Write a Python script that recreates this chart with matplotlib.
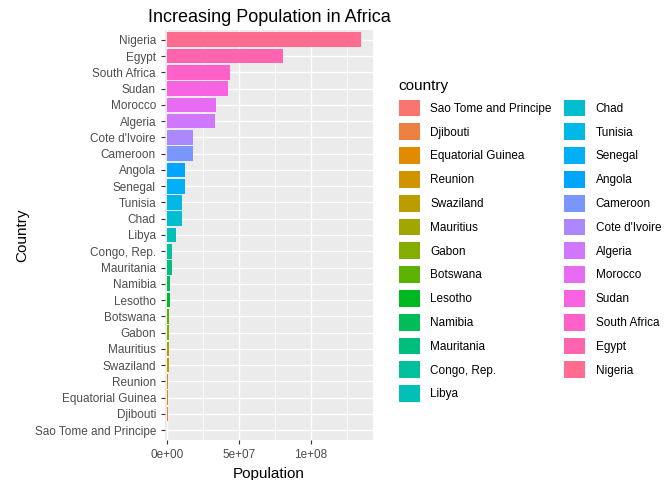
import numpy as np
import matplotlib.pyplot as plt
from matplotlib.patches import Patch
from matplotlib.ticker import FixedLocator

plt.rcParams['font.family'] = ['Liberation Sans', 'DejaVu Sans']

countries = ["Sao Tome and Principe", "Djibouti", "Equatorial Guinea", "Reunion", "Swaziland",
             "Mauritius", "Gabon", "Botswana", "Lesotho", "Namibia", "Mauritania", "Congo, Rep.",
             "Libya", "Chad", "Tunisia", "Senegal", "Angola", "Cameroon", "Cote d'Ivoire",
             "Algeria", "Morocco", "Sudan", "South Africa", "Egypt", "Nigeria"]
population = [0.2e6, 0.5e6, 0.55e6, 0.8e6, 1.13e6, 1.25e6, 1.45e6, 1.64e6, 2.0e6, 2.06e6,
              3.27e6, 3.8e6, 6.04e6, 10.2e6, 10.3e6, 12.3e6, 12.4e6, 17.7e6, 18.0e6,
              33.3e6, 33.8e6, 42.3e6, 44.0e6, 80.3e6, 135.0e6]


def hcl(h, c=100, l=65):
    h = np.radians(h)
    u, v = c * np.cos(h), c * np.sin(h)
    Y = ((l + 16) / 116) ** 3
    up = u / (13 * l) + 0.1978398
    vp = v / (13 * l) + 0.4683363
    X = Y * 9 * up / (4 * vp)
    Z = Y * (12 - 3 * up - 20 * vp) / (4 * vp)
    M = np.array([[3.2404542, -1.5371385, -0.4985314],
                  [-0.9692660, 1.8760108, 0.0415560],
                  [0.0556434, -0.2040259, 1.0572252]])
    rgb = M @ np.array([X, Y, Z])
    rgb = np.where(rgb <= 0.0031308, 12.92 * rgb, 1.055 * np.clip(rgb, 0, None) ** (1 / 2.4) - 0.055)
    return tuple(np.clip(rgb, 0, 1))


n = len(countries)
hues = np.linspace(15, 375, n + 1)[:n]
colors = [hcl(h) for h in hues]

fig = plt.figure(figsize=(6.72, 4.8), dpi=100)
ax = fig.add_axes([165 / 672, 40 / 480, 208 / 672, 410 / 480])
ax.set_facecolor('#EBEBEB')
y = np.arange(n)
ax.barh(y, population, height=0.9, color=colors, zorder=3)
ax.set_xlim(-0.014e8, 1.43e8)
ax.set_ylim(-0.6, n - 0.4)
ax.set_yticks(y)
ax.set_yticklabels(countries)
ax.set_xticks([0, 5e7, 1e8])
ax.set_xticklabels(['0e+00', '5e+07', '1e+08'])
ax.xaxis.set_minor_locator(FixedLocator([2.5e7, 7.5e7, 1.25e8]))
ax.grid(True, which='major', color='white', linewidth=1.0, zorder=0)
ax.grid(True, which='minor', axis='x', color='white', linewidth=0.5, zorder=0)
ax.set_axisbelow(True)
for s in ax.spines.values():
    s.set_visible(False)
ax.tick_params(axis='both', which='major', labelsize=8.5, colors='#333333', length=3, labelcolor='#4D4D4D')
ax.tick_params(axis='x', which='minor', length=0)
ax.set_xlabel('Population', fontsize=11)
ax.set_ylabel('Country', fontsize=11)
ax.set_title('Increasing Population in Africa', fontsize=13)

handles = [Patch(facecolor=c, edgecolor='none') for c in colors]
leg = fig.legend(handles, countries, loc='upper left', bbox_to_anchor=(388 / 672, 1 - 68 / 480),
                 ncol=2, frameon=False, title='country', fontsize=8.5, title_fontsize=11,
                 handlelength=1.8, handleheight=1.8, labelspacing=0.6, columnspacing=1.0,
                 handletextpad=0.9, alignment='left')
fig.savefig('out.png', dpi=100)
